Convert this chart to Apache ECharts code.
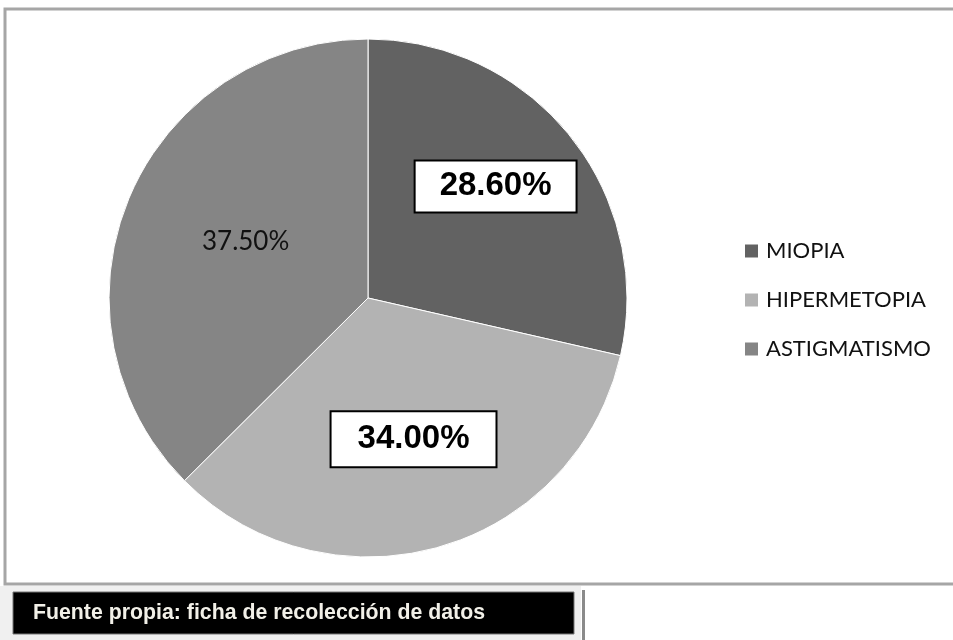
<!DOCTYPE html>
<html>
<head>
<meta charset="utf-8">
<script src="https://cdn.jsdelivr.net/npm/echarts@6/dist/echarts.min.js"></script>
<style>
  html, body { margin: 0; padding: 0; background: #fff; overflow: hidden; }
  #chart { width: 953px; height: 640px; }
</style>
</head>
<body>
<div id="chart"></div>
<script>
  const categories = ['MIOPIA', 'HIPERMETOPIA', 'ASTIGMATISMO']
  const values = [28.6, 34.0, 37.5]
  const colors = ['#626262', '#b3b3b3', '#858585']
  const sourceText = 'Fuente propia: ficha de recolección de datos'

  // nudges to put the labels where the original ones sit
  const labelOffsets = [[24, -29], [9, 14], [0, -6]]
  const labelPadding = [[9, 24, 8, 24], [11, 26, 10, 26], 0]

  const boxedLabel = {
    color: '#000',
    fontFamily: 'Liberation Sans, Arial, sans-serif',
    fontWeight: 'bold',
    fontSize: 33,
    backgroundColor: '#fff',
    borderColor: '#000',
    borderWidth: 2,
  }
  const plainLabel = {
    color: '#111',
    fontFamily: 'Lato, sans-serif',
    fontSize: 26,
  }

  const data = categories.map((name, i) => ({
    name,
    value: values[i],
    itemStyle: { color: colors[i] },
    label: Object.assign({ offset: labelOffsets[i], padding: labelPadding[i] }, i < 2 ? boxedLabel : plainLabel),
  }))

  const chart = echarts.init(document.getElementById('chart'))
  chart.setOption({
    animation: false,
    title: {
      text: sourceText,
      left: 33,
      top: 603,
      padding: 0,
      textStyle: { color: '#f2f0e8', fontFamily: 'Liberation Sans, Arial, sans-serif', fontWeight: 'bold', fontSize: 21.3 },
    },
    legend: {
      orient: 'vertical',
      left: 743,
      top: 240,
      padding: 0,
      itemWidth: 15,
      itemHeight: 15,
      itemGap: 27,
      icon: 'rect',
      data: categories,
      textStyle: { color: '#111', fontFamily: 'Lato, sans-serif', fontSize: 22, padding: [0, 0, 0, 2] },
    },
    graphic: [
      {
        type: 'polyline',
        z: -10,
        shape: { points: [[960, 9], [5, 9], [5, 584], [960, 584]] },
        style: { fill: null, stroke: '#a6a6a6', lineWidth: 3 },
      },
      { type: 'rect', z: -9, shape: { x: 0, y: 586, width: 581, height: 54 }, style: { fill: '#f0f0f0' } },
      { type: 'rect', z: -8, shape: { x: 13, y: 592, width: 561, height: 42 }, style: { fill: '#000', stroke: '#777', lineWidth: 1 } },
      { type: 'rect', z: -8, shape: { x: 582, y: 590, width: 3, height: 50 }, style: { fill: '#8a8a8a' } },
    ],
    series: [
      {
        type: 'pie',
        center: [368, 298],
        radius: 259,
        startAngle: 90,
        clockwise: true,
        label: { show: true, position: 'inside', formatter: (p) => p.value.toFixed(2) + '%' },
        labelLine: { show: false },
        itemStyle: { borderColor: '#fff', borderWidth: 1 },
        emphasis: { disabled: true },
        data,
      },
    ],
  })
</script>
</body>
</html>
